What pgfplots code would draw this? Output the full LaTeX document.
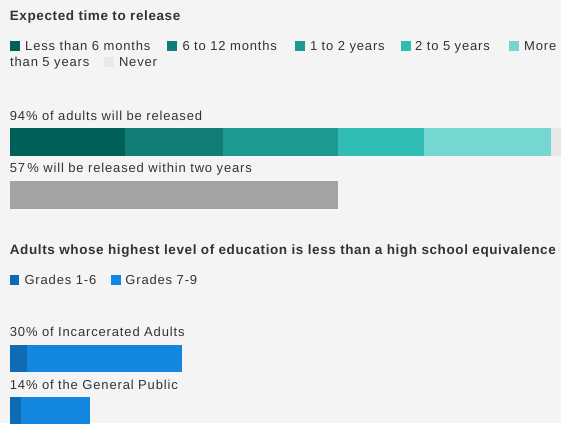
\documentclass[border=0pt]{standalone}
\usepackage{pgfplots}
\pgfplotsset{compat=1.18}
\usepackage{fontspec}
\setmainfont{Liberation Sans}
\newfontfamily\lblfont{Liberation Sans}[LetterSpace=6.5]
\newfontfamily\ttlfont{Liberation Sans}[LetterSpace=4.5]
\definecolor{bgcol}{HTML}{F4F4F4}
\definecolor{txt}{HTML}{333333}
\definecolor{cA}{HTML}{005F57}
\definecolor{cB}{HTML}{117D74}
\definecolor{cC}{HTML}{1F9A91}
\definecolor{cD}{HTML}{2FBDB4}
\definecolor{cE}{HTML}{76D6D0}
\definecolor{cF}{HTML}{E8E8E8}
\definecolor{cG}{HTML}{A3A3A3}
\definecolor{gA}{HTML}{116BB4}
\definecolor{gB}{HTML}{1386E0}
\pgfplotsset{barax/.style={at={(9.5pt,-423pt)}, anchor=south west, scale only axis,
  width=576pt, height=423pt, xmin=0, xmax=100, ymin=-423, ymax=0, hide axis,
  xbar stacked, bar width=27.7pt, clip=false}}
\newcommand{\lbl}[3]{\node[anchor=base west, inner sep=0pt, text=txt, font=\lblfont\fontsize{13}{15}\selectfont] at (#1pt,-#2pt) {#3};}
\newcommand{\ttl}[3]{\node[anchor=base west, inner sep=0pt, text=txt, font=\ttlfont\bfseries\fontsize{13.5}{15}\selectfont] at (#1pt,-#2pt) {#3};}
\newcommand{\sq}[3]{\fill[#3] (#1pt,-#2pt) rectangle ++(9.6pt,-9.6pt);}
\begin{document}
\begin{tikzpicture}
\useasboundingbox (0,0) rectangle (561pt,-423pt);
\clip (0,0) rectangle (561pt,-423pt);
\fill[bgcol] (0,0) rectangle (561pt,-423pt);
% Titles and labels
\ttl{9.7}{20.7}{Expected time to release}
\sq{10}{41.4}{cA}\lbl{25}{50.7}{Less than 6 months}
\sq{167.3}{41.4}{cB}\lbl{182.3}{50.7}{6 to 12 months}
\sq{295.3}{41.4}{cC}\lbl{309.8}{50.7}{1 to 2 years}
\sq{401}{41.4}{cD}\lbl{415}{50.7}{2 to 5 years}
\sq{509}{41.4}{cE}\lbl{524}{50.7}{More}
\lbl{10}{66.7}{than 5 years}
\sq{104}{57.4}{cF}\lbl{118.8}{66.7}{Never}
\lbl{9.7}{120}{94\% of adults will be released}
\lbl{9.7}{172.7}{57\,\% will be released within two years}
\ttl{9.7}{254.3}{Adults whose highest level of education is less than a high school equivalence}
\sq{9.5}{274.9}{gA}\lbl{24.3}{284.3}{Grades 1-6}
\sq{111}{274.9}{gB}\lbl{125.2}{284.3}{Grades 7-9}
\lbl{9.7}{336.7}{30\% of Incarcerated Adults}
\lbl{9.7}{389.5}{14\% of the General Public}
% Bars
\begin{axis}[barax]
\addplot[fill=cA, draw=none] coordinates {(20,-142.15)};
\addplot[fill=cB, draw=none] coordinates {(17,-142.15)};
\addplot[fill=cC, draw=none] coordinates {(20,-142.15)};
\addplot[fill=cD, draw=none] coordinates {(15,-142.15)};
\addplot[fill=cE, draw=none] coordinates {(22,-142.15)};
\addplot[fill=cF, draw=none] coordinates {(6,-142.15)};
\end{axis}
\begin{axis}[barax]
\addplot[fill=cG, draw=none] coordinates {(57,-194.85)};
\end{axis}
\begin{axis}[barax, bar width=27.3pt]
\addplot[fill=gA, draw=none] coordinates {(3,-358.65)};
\addplot[fill=gB, draw=none] coordinates {(27,-358.65)};
\end{axis}
\begin{axis}[barax, bar width=27.3pt]
\addplot[fill=gA, draw=none] coordinates {(2,-411)};
\addplot[fill=gB, draw=none] coordinates {(12,-411)};
\end{axis}
\end{tikzpicture}
\end{document}
